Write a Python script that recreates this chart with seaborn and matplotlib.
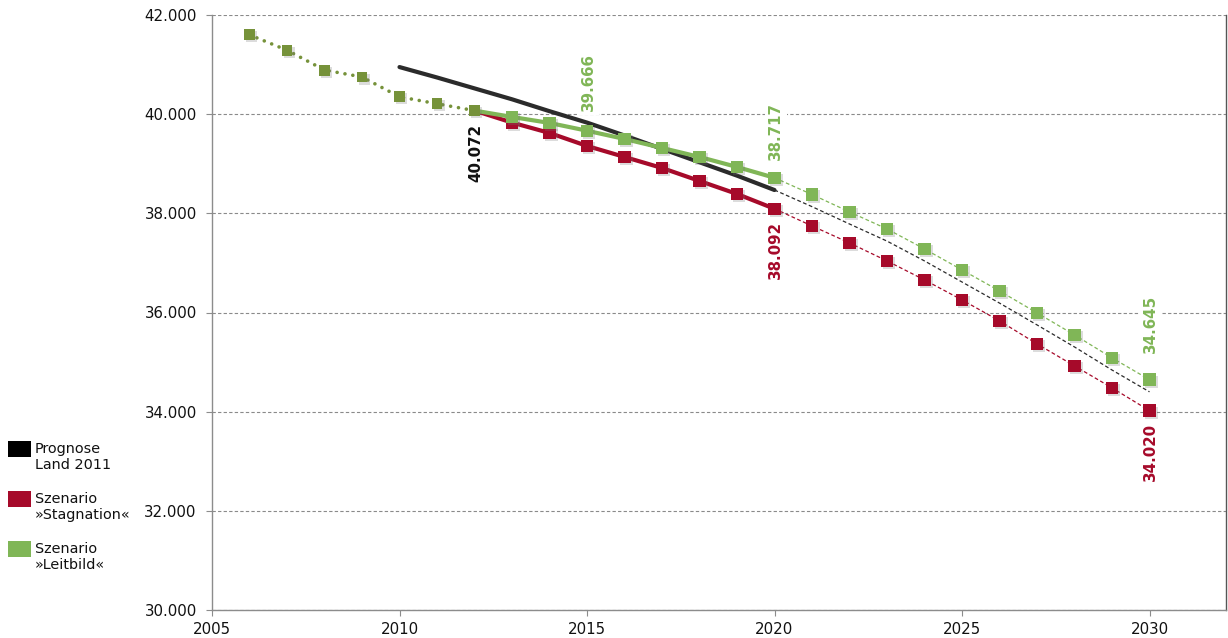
import matplotlib
matplotlib.use("Agg")
import matplotlib.pyplot as plt
import matplotlib.patheffects as pe
from matplotlib.patches import Rectangle
from matplotlib.ticker import FuncFormatter
import numpy as np
import pandas as pd
import seaborn as sns

# ---------------- data ----------------
hist_years = [2006, 2007, 2008, 2009, 2010, 2011, 2012]
hist_values = [41600, 41290, 40890, 40750, 40350, 40210, 40072]

prog_years = list(range(2010, 2031))
prog_values = [40950, 40740, 40520, 40300, 40060, 39830, 39570, 39300, 39030, 38760,
               38470, 38135, 37785, 37440, 37040, 36615, 36190, 35750, 35305, 34840, 34400]

scen_years = list(range(2012, 2031))
stag_values = [40072, 39830, 39621, 39359, 39137, 38915, 38653, 38391, 38092,
               37746, 37403, 37040, 36657, 36254, 35831, 35367, 34923, 34480, 34020]
leit_values = [40072, 39944, 39823, 39666, 39500, 39319, 39137, 38935, 38717,
               38380, 38028, 37685, 37282, 36859, 36435, 35992, 35548, 35085, 34645]

legend_labels = ["Prognose\nLand 2011", "Szenario\n\u00bbStagnation\u00ab", "Szenario\n\u00bbLeitbild\u00ab"]
x_ticks = [2005, 2010, 2015, 2020, 2025, 2030]
y_ticks = [30000, 32000, 34000, 36000, 38000, 40000, 42000]
split_year = 2020

# ---------------- style ----------------
C_BLACK = "#2b2b2b"
C_RED = "#a60a2a"
C_GREEN = "#80b657"
C_OLIVE = "#76923a"

sns.set_theme(style="white")
plt.rcParams["font.family"] = ["DejaVu Sans"]

fig = plt.figure(figsize=(12.28, 6.38), dpi=100)
ax = fig.add_axes([212 / 1228, 1 - 610 / 638, (1226 - 212) / 1228, (610 - 15) / 638])

def fmt(v):
    return f"{int(v):,}".replace(",", ".")

shadow = [pe.SimplePatchShadow(offset=(1.5, -1.5), shadow_rgbFace="#777777", alpha=0.25), pe.Normal()]

def draw_series(years, values, color, z):
    df = pd.DataFrame({"year": years, "value": values})
    solid = df[df.year <= split_year]
    dashed = df[df.year >= split_year]
    sns.lineplot(data=solid, x="year", y="value", ax=ax, color=color, linewidth=3.0,
                 estimator=None, sort=False, zorder=z)
    sns.lineplot(data=dashed, x="year", y="value", ax=ax, color=color, linewidth=0.9,
                 linestyle=(0, (3, 2)), estimator=None, sort=False, zorder=z)

# Prognose (no markers)
draw_series(prog_years, prog_values, C_BLACK, 3)
# Stagnation
draw_series(scen_years, stag_values, C_RED, 4)
sns.scatterplot(x=scen_years[1:], y=stag_values[1:], ax=ax, marker="s", s=80, color=C_RED,
                edgecolor="none", zorder=5, legend=False)
ax.collections[-1].set_path_effects(shadow)
# Leitbild
draw_series(scen_years, leit_values, C_GREEN, 6)
sns.scatterplot(x=scen_years[1:], y=leit_values[1:], ax=ax, marker="s", s=80, color=C_GREEN,
                edgecolor="none", zorder=7, legend=False)
ax.collections[-1].set_path_effects(shadow)

# historical
sns.lineplot(x=hist_years, y=hist_values, ax=ax, color=C_OLIVE, linewidth=2.6,
             linestyle=(0, (0.01, 2.2)), dash_capstyle="round", estimator=None, sort=False, zorder=8)
sns.scatterplot(x=hist_years, y=hist_values, ax=ax, marker="s", s=62, color=C_OLIVE,
                edgecolor="none", zorder=9, legend=False)
ax.collections[-1].set_path_effects(shadow)

# ---------------- labels ----------------
box = dict(facecolor="white", edgecolor="none", pad=2.5)

def label(x, y, color, dy, va):
    ax.annotate(fmt(y), xy=(x, y), xytext=(1, dy), textcoords="offset points",
                rotation=90, ha="center", va=va, fontsize=10.8, fontweight="bold",
                color=color, bbox=box, zorder=10)

label(2012, hist_values[-1], "#111111", -10, "top")
label(2015, leit_values[scen_years.index(2015)], C_GREEN, 14, "bottom")
label(2020, leit_values[scen_years.index(2020)], C_GREEN, 13, "bottom")
label(2020, stag_values[scen_years.index(2020)], C_RED, -9, "top")
label(2030, leit_values[-1], C_GREEN, 19, "bottom")
label(2030, stag_values[-1], C_RED, -9, "top")

# ---------------- axes ----------------
ax.set_xlim(2005, 2032.04)
ax.set_ylim(30000, 42000)
ax.set_xticks(x_ticks)
ax.set_yticks(y_ticks)
ax.yaxis.set_major_formatter(FuncFormatter(lambda v, p: fmt(v)))
ax.set_xlabel("")
ax.set_ylabel("")
ax.grid(axis="y", color="#8a8a8a", linestyle=(0, (3, 2)), linewidth=0.8)
ax.grid(axis="x", visible=False)
ax.set_axisbelow(True)
for side in ["left", "bottom", "right"]:
    ax.spines[side].set_visible(True)
    ax.spines[side].set_color("#8c8c8c")
    ax.spines[side].set_linewidth(1.0)
ax.spines["right"].set_color("#555555")
ax.spines["top"].set_visible(False)
ax.tick_params(axis="both", which="major", direction="out", length=4, width=0.8,
               color="#8c8c8c", labelsize=10.8, labelcolor="#111111")
ax.tick_params(axis="y", pad=7, left=True)
ax.tick_params(axis="x", pad=5, bottom=True)

# ---------------- legend ----------------
leg_colors = ["black", C_RED, C_GREEN]
leg_tops = [441, 491, 541]
for col, top, txt in zip(leg_colors, leg_tops, legend_labels):
    fig.patches.append(Rectangle((8 / 1228, 1 - (top + 16) / 638), 23 / 1228, 16 / 638,
                                 transform=fig.transFigure, facecolor=col, edgecolor="none"))
    fig.text(35 / 1228, 1 - (top + 1) / 638, txt, ha="left", va="top", fontsize=10.4,
             color="#111111", linespacing=1.2)

fig.savefig("out.png", dpi=100)
